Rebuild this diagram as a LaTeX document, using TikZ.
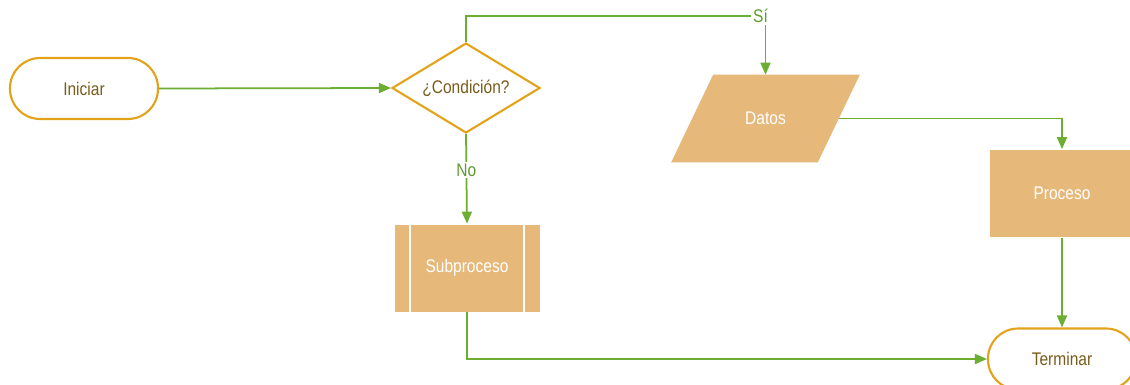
\documentclass[tikz,border=0pt]{standalone}
\usepackage{fontspec}
\setmainfont{Liberation Sans}[FakeStretch=0.85]
\usetikzlibrary{shapes.geometric,arrows.meta,backgrounds}
\definecolor{flowgreen}{HTML}{6BAE32}
\definecolor{labelgreen}{HTML}{5E9A2E}
\definecolor{edgeorange}{HTML}{E2A31B}
\definecolor{boxtan}{HTML}{E6B97A}
\definecolor{textbrown}{HTML}{7A5C1A}
\tikzset{every node/.style={font=\fontsize{10.4}{12}\selectfont},
  flow/.style={draw=flowgreen, line width=1pt, -{Triangle[length=0.24cm,width=0.2cm]}},
  termbox/.style={draw=edgeorange, line width=1.2pt, rounded corners=0.6cm, minimum width=2.96cm, minimum height=1.22cm, text=textbrown},
  condbox/.style={diamond, draw=edgeorange, line width=1.2pt, shape aspect=1.64, inner sep=0pt, minimum width=2.96cm, minimum height=1.8cm, text=textbrown},
  databox/.style={minimum width=2.92cm, minimum height=1.74cm, text=white},
  procbox/.style={fill=boxtan, draw=white, line width=0.4pt, minimum width=2.92cm, minimum height=1.76cm, text=white},
  subline/.style={draw=white, line width=1pt},
  lbl/.style={fill=white, inner sep=1pt, text=labelgreen}}

\begin{document}
\begin{tikzpicture}[x=0.02cm, y=-0.02cm]
  \clip (0,0) rectangle (1130,385);
  \node[termbox] (ini) at (84,88.5) {Iniciar};
  \node[condbox] (cond) at (466,88) {¿Condición?};
  \node[databox] (dat) at (765.5,118.5) {Datos};
  \begin{scope}[on background layer]
    \fill[boxtan] ([xshift=0.42cm]dat.north west) -- ([xshift=0.42cm]dat.north east)
      -- ([xshift=-0.42cm]dat.south east) -- ([xshift=-0.42cm]dat.south west) -- cycle;
  \end{scope}
  \node[procbox] (pro) at (1062,193.5) {Proceso};
  \node[procbox] (sub) at (467,268) {Subproceso};
  \foreach \a/\d in {west/1,east/-1}
    \draw[subline] ([xshift=\d*0.32cm]sub.north \a) -- ([xshift=\d*0.32cm]sub.south \a);
  \node[termbox] (ter) at (1062,359) {Terminar};
  \draw[flow] (ini.east) -- (cond.west);
  \draw[flow] (cond.north) -- ++(0,-26) -| node[lbl, pos=0.5, xshift=-0.1cm] {Sí} (dat.north);
  \draw[flow] (cond.south) -- node[lbl, pos=0.4] {No} (sub.north);
  \draw[flow] (dat.east) -| (pro.north);
  \draw[flow] (pro.south) -- (ter.north);
  \draw[flow] (sub.south) |- (ter.west);
\end{tikzpicture}
\end{document}
